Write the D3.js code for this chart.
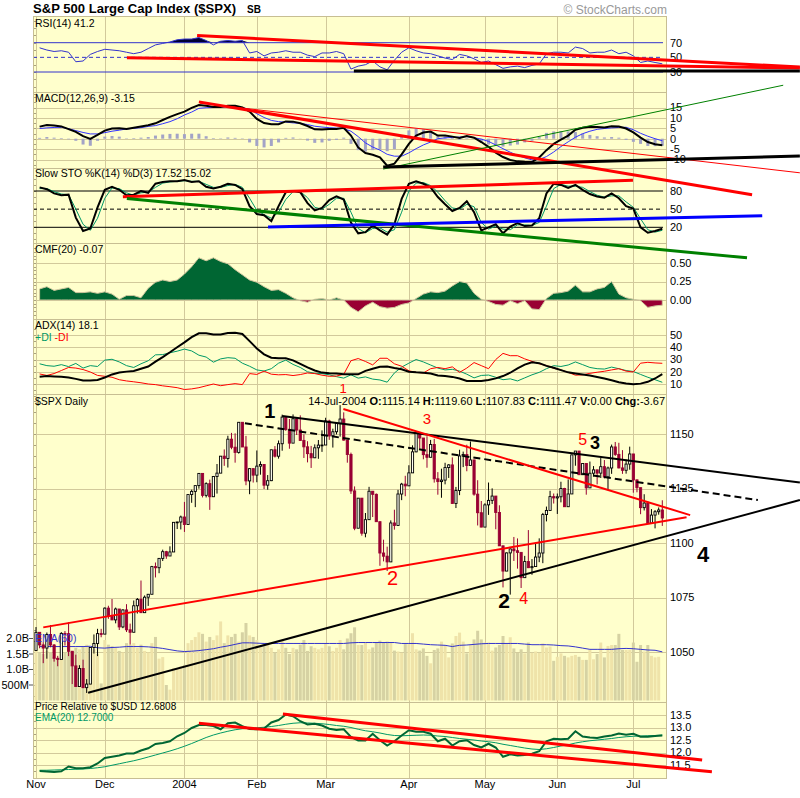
<!DOCTYPE html>
<html><head><meta charset="utf-8">
<script src="https://cdn.jsdelivr.net/npm/d3@7"></script>
<style>body{margin:0;background:#fff}svg{display:block}text{font-family:"Liberation Sans",Arial,sans-serif}</style>
</head><body><svg id="c" width="800" height="798"></svg>
<script>
// ---------- DATA ----------
const monthIdx=[0,19,41,61,80,103,124,144,165];
const monthLbl=["Nov","Dec","2004","Feb","Mar","Apr","May","Jun","Jul"];
const opens=[1050.71,1059.02,1053.25,1051.81,1058.05,1053.21,1047.11,1046.57,1058.53,1058.41,
1050.35,1043.63,1034.15,1042.44,1033.65,1035.28,1052.08,1053.89,1058.45,1058.20,
1070.12,1066.62,1064.73,1069.72,1061.50,1069.30,1060.18,1059.05,1071.21,1074.14,
1068.04,1075.13,1076.48,1089.18,1088.66,1092.94,1096.02,1094.04,1095.89,1109.48,
1109.64,1111.92,1108.48,1122.22,1123.67,1126.33,1131.92,1121.86,1127.23,1121.22,
1130.52,1132.05,1139.83,1138.77,1147.62,1143.94,1141.55,1155.37,1144.05,1128.48,
1134.11,1131.13,1135.26,1136.03,1126.52,1128.59,1142.76,1139.81,1145.54,1157.76,
1152.11,1145.81,1156.99,1151.82,1147.06,1144.11,1140.99,1139.09,1143.67,1144.91,
1144.94,1155.97,1149.10,1151.03,1154.87,1156.86,1147.20,1140.58,1123.89,1106.78,
1120.57,1104.49,1110.70,1123.75,1122.32,1109.78,1095.40,1093.95,1091.33,1109.19,
1108.06,1122.47,1127.00,1126.21,1132.17,1141.81,1150.57,1148.16,1140.53,1139.32,
1145.20,1129.44,1128.17,1128.84,1134.61,1135.82,1118.15,1124.09,1139.93,1140.60,
1135.53,1138.11,1122.41,1113.89,1107.30,1117.49,1119.55,1121.53,1113.99,1098.70,
1087.12,1095.45,1097.28,1096.44,1095.70,1084.10,1091.49,1088.68,1089.19,1093.56,
1095.41,1113.05,1114.94,1121.28,1120.68,1121.20,1124.99,1116.64,1122.50,1140.42,
1142.18,1131.33,1136.47,1125.29,1132.01,1133.56,1132.05,1135.02,1130.30,1134.41,
1144.06,1140.65,1134.43,1133.35,1136.20,1140.84,1128.94,1125.38,1116.21,1118.33,
1109.11,1112.81,1114.35,1115.14];
const highs=[1061.44,1059.02,1054.54,1058.94,1062.39,1053.65,1048.23,1059.10,1059.62,1063.65,
1050.35,1048.77,1043.95,1046.48,1037.57,1052.08,1058.05,1060.63,1060.63,1070.47,
1071.22,1074.30,1070.37,1069.72,1069.59,1071.94,1063.02,1073.63,1074.76,1082.79,
1075.94,1076.54,1089.50,1091.06,1092.94,1096.95,1096.40,1098.47,1109.48,1109.75,
1112.56,1118.85,1122.22,1124.46,1126.33,1131.92,1131.92,1127.85,1129.07,1130.75,
1136.23,1139.83,1142.93,1149.21,1150.51,1150.31,1155.38,1155.37,1149.14,1134.39,
1134.17,1142.45,1137.44,1136.03,1131.17,1142.79,1144.46,1147.02,1158.89,1157.76,
1156.88,1158.98,1157.40,1158.57,1149.81,1146.69,1144.54,1145.24,1147.23,1151.68,
1157.45,1156.54,1152.44,1154.97,1163.23,1159.94,1147.32,1141.45,1125.96,1120.63,
1120.57,1113.76,1125.76,1123.75,1122.72,1109.78,1101.52,1098.32,1110.38,1115.27,
1124.37,1127.60,1130.83,1135.67,1144.81,1150.57,1150.57,1148.16,1148.97,1147.29,
1147.78,1132.52,1134.08,1136.80,1136.18,1139.26,1125.72,1142.77,1141.92,1145.08,
1146.56,1138.11,1128.80,1119.26,1118.22,1127.74,1125.07,1121.53,1117.30,1098.70,
1095.69,1097.55,1102.77,1102.10,1095.70,1094.10,1105.93,1092.62,1099.64,1102.14,
1113.80,1116.71,1123.95,1122.70,1122.70,1128.10,1125.31,1129.17,1140.54,1142.18,
1142.18,1136.47,1136.47,1137.36,1135.28,1133.56,1138.96,1138.05,1135.05,1145.15,
1146.34,1145.97,1142.60,1138.26,1144.20,1140.84,1129.15,1125.38,1122.37,1119.12,
1115.57,1115.11,1116.30,1119.60];
const lows=[1050.71,1051.70,1044.88,1046.93,1052.17,1045.58,1043.46,1046.57,1052.96,1048.11,
1035.28,1034.00,1034.15,1033.42,1031.20,1035.28,1049.31,1048.11,1056.77,1058.20,
1065.22,1064.63,1063.15,1060.09,1060.93,1059.16,1053.41,1059.05,1067.64,1068.00,
1068.00,1071.14,1076.48,1084.19,1086.14,1091.73,1092.73,1094.04,1095.89,1106.41,
1106.21,1105.08,1108.48,1118.44,1116.45,1124.91,1120.90,1120.90,1115.19,1121.22,
1122.66,1132.05,1135.40,1134.62,1143.01,1136.85,1141.00,1144.05,1126.50,1122.38,
1127.73,1127.87,1131.33,1124.74,1124.44,1128.39,1139.21,1138.70,1142.33,1151.44,
1143.24,1145.81,1149.54,1146.85,1139.00,1136.98,1134.43,1138.96,1138.62,1141.80,
1144.94,1147.31,1143.78,1149.81,1148.77,1146.97,1136.84,1122.53,1105.87,1106.78,
1103.36,1102.61,1110.70,1111.91,1109.69,1089.54,1091.57,1087.16,1091.33,1106.13,
1108.06,1119.66,1121.46,1126.20,1132.17,1141.64,1143.30,1138.41,1134.52,1139.32,
1127.70,1122.15,1120.75,1126.90,1129.84,1118.09,1116.03,1121.95,1134.81,1132.91,
1135.53,1121.70,1108.04,1107.23,1107.30,1112.89,1117.90,1106.30,1098.63,1079.63,
1087.12,1076.32,1091.76,1088.24,1079.36,1084.10,1088.49,1085.43,1089.19,1091.20,
1090.74,1109.91,1114.86,1118.10,1113.32,1118.64,1116.57,1116.64,1122.50,1135.45,
1131.17,1131.33,1122.16,1125.29,1130.55,1126.89,1129.83,1129.64,1124.37,1131.73,
1139.94,1134.24,1131.72,1131.81,1133.62,1123.06,1123.26,1113.21,1114.92,1108.72,
1109.11,1106.71,1112.99,1107.83];
const closes=[1059.02,1053.25,1051.81,1058.05,1053.21,1047.11,1046.57,1058.53,1058.41,1050.35,
1043.63,1034.15,1042.44,1033.65,1035.28,1052.08,1053.89,1058.45,1058.20,1070.12,
1066.62,1064.73,1069.72,1061.50,1069.30,1060.18,1059.05,1071.21,1074.14,1068.04,
1075.13,1076.48,1089.18,1088.66,1092.94,1096.02,1094.04,1095.89,1109.48,1109.64,
1111.92,1108.48,1122.22,1123.67,1126.33,1131.92,1121.86,1127.23,1121.22,1130.52,
1132.05,1139.83,1138.77,1147.62,1143.94,1141.55,1155.37,1144.05,1128.48,1134.11,
1131.13,1135.26,1136.03,1126.52,1128.59,1142.76,1139.81,1145.54,1157.76,1152.11,
1145.81,1156.99,1151.82,1147.06,1144.11,1140.99,1139.09,1143.67,1144.91,1144.94,
1155.97,1149.10,1151.03,1154.87,1156.86,1147.20,1140.58,1123.89,1106.78,1120.57,
1104.49,1110.70,1123.75,1122.32,1109.78,1095.40,1093.95,1091.33,1109.19,1108.06,
1122.47,1127.00,1126.21,1132.17,1141.81,1150.57,1148.16,1140.53,1139.32,1145.20,
1129.44,1128.17,1128.84,1134.61,1135.82,1118.15,1124.09,1139.93,1140.60,1135.53,
1138.11,1122.41,1113.89,1107.30,1117.49,1119.55,1121.53,1113.99,1098.70,1087.12,
1095.45,1097.28,1096.44,1095.70,1084.10,1091.49,1088.68,1089.19,1093.56,1095.41,
1113.05,1114.94,1121.28,1120.68,1121.20,1124.99,1116.64,1122.50,1140.42,1142.18,
1131.33,1136.47,1125.29,1132.01,1133.56,1132.05,1135.02,1130.30,1134.41,1144.06,
1140.65,1134.43,1133.35,1136.20,1140.84,1128.94,1125.38,1116.21,1118.33,1109.11,
1112.81,1114.35,1115.14,1111.47];
// volume in billions of shares
const volumes=[1.65,1.55,1.50,1.60,1.55,1.40,1.35,1.50,1.55,1.60,1.55,1.70,1.65,1.75,1.80,1.50,1.65,1.50,0.55,
1.95,1.80,1.75,1.70,1.60,1.55,1.85,1.80,1.85,1.70,1.80,1.60,1.55,1.85,2.05,1.35,1.40,0.50,0.35,1.05,1.05,1.10,
1.15,1.85,1.95,2.05,2.20,2.15,1.90,2.05,1.95,2.10,2.55,1.85,2.10,2.05,2.15,1.90,2.20,2.50,2.10,2.05,
1.95,1.75,1.85,1.80,1.70,1.55,1.65,1.95,1.70,1.50,1.70,1.65,1.80,1.95,1.60,1.75,1.70,1.65,1.70,
1.85,1.75,1.60,1.70,1.95,1.65,
2.00,2.17,2.36,1.79,1.79,1.87,1.65,1.71,1.87,1.93,1.87,1.90,1.87,1.61,1.58,1.54,1.82,1.82,2.17,1.65,
1.61,1.68,1.44,1.20,1.63,1.68,1.90,1.79,1.39,1.84,2.08,2.19,1.90,1.52,1.79,1.97,2.25,1.97,1.87,1.87,
1.61,1.71,1.79,2.08,1.82,2.04,1.68,1.54,1.65,1.52,1.87,1.54,1.58,1.54,1.84,1.71,1.74,1.28,1.41,1.52,
1.44,1.39,1.44,1.47,1.41,1.31,1.31,1.63,1.33,1.50,1.87,1.39,1.76,1.79,1.79,2.15,1.63,1.63,1.63,1.87,
1.25,1.79,1.58,1.79,1.44,1.39,1.41];
// indicator series, one value every second trading day (day 1,3,5,...,173)
const volEma=[1.74,1.74,1.74,1.74,1.74,1.74,1.74,1.75,1.70,1.69,1.71,1.72,1.74,1.74,1.74,1.73,1.71,1.68,1.64,1.60,
1.58,1.59,1.61,1.64,1.67,1.72,1.76,1.81,1.86,1.86,1.85,1.84,1.84,1.84,1.84,1.84,1.84,1.84,1.84,1.84,
1.84,1.84,1.84,1.86,1.87,1.87,1.87,1.87,1.87,1.87,1.84,1.84,1.84,1.82,1.80,1.79,1.78,1.74,1.78,1.79,
1.81,1.83,1.84,1.84,1.84,1.84,1.84,1.82,1.80,1.80,1.80,1.79,1.77,1.76,1.73,1.69,1.65,1.65,1.65,1.65,
1.67,1.68,1.67,1.65,1.63,1.62,1.57];
const rsi=[63,60,58,59,57,44,45,54,58,61,60,59,57,55,57,62,67,69,71,74,
75,75,77,73,67,72,73,72,73,56,58,52,56,57,59,57,57,53,51,56,
56,58,55,34,38,40,45,37,33,46,57,63,59,56,55,52,49,47,54,52,
48,43,45,40,35,37,38,36,39,41,55,57,57,56,64,62,56,57,57,60,
55,57,52,43,45,43,41.2];
const macd=[5.8,6.6,6.3,5.9,4.6,3.3,1.2,-0.1,1.8,3.9,4.9,5.0,4.7,5.3,5.9,6.5,7.4,9.0,10.5,11.8,
13.0,14.8,16.2,15.8,15.2,15.2,15.9,15.8,15.0,13.0,9.5,7.5,6.9,7.0,8.3,8.2,7.4,6.1,4.5,4.4,
4.7,4.7,5.2,1.5,-4.2,-6.9,-7.7,-9.0,-13.0,-12.0,-7.5,-2.5,1.5,3.0,3.4,1.5,1.5,1.0,0.4,1.3,
0.5,-1.6,-3.9,-6.7,-8.8,-10.2,-10.9,-11.1,-11.2,-9.0,-5.5,-2.5,-0.5,1.5,4.3,5.3,5.7,5.6,5.4,6.0,
5.9,4.9,3.0,0.5,-1.6,-2.7,-3.15];
const macdSignal=[4.9,5.2,5.4,5.5,4.8,3.9,3.0,2.3,2.3,2.9,3.6,4.1,4.7,5.0,5.3,5.9,6.3,7.2,8.2,9.6,
11.4,12.8,14.6,14.9,15.0,15.2,15.3,15.5,14.9,14.2,12.0,10.2,8.8,8.2,8.0,7.6,7.4,6.8,6.0,5.6,
5.3,5.1,4.8,3.6,1.0,-2.0,-4.0,-5.5,-7.5,-8.4,-8.4,-6.8,-4.8,-3.0,-1.6,0.0,0.4,0.6,0.8,1.0,
0.5,-0.2,-1.3,-3.0,-4.8,-6.5,-8.0,-9.2,-10.2,-10.0,-8.6,-6.4,-3.8,-1.5,0.7,2.4,3.6,4.5,4.9,5.2,
5.4,5.5,4.3,2.6,1.2,0.0,-1.0];
const macdHist=[0.4,0.8,0.5,0.3,-0.3,-1.0,-2.8,-3.4,-1.0,1.0,1.3,1.0,0.2,0.3,0.5,0.8,1.5,2.0,2.3,2.4,
2.2,2.4,2.4,1.2,0.3,0.2,0.6,0.4,0.2,-1.8,-3.5,-4.2,-3.5,-1.8,0.4,0.6,0.1,-0.9,-2.0,-1.8,
-1.0,-0.6,0.5,-2.5,-5.5,-6.2,-5.5,-5.2,-6.0,-5.0,1.0,4.0,5.0,4.5,3.8,1.8,1.2,0.5,-0.5,0.3,
0.0,-1.5,-2.8,-3.5,-3.8,-3.3,-2.8,-1.8,-1.0,1.0,2.8,3.5,3.7,3.5,3.2,2.5,1.8,1.2,0.6,0.8,
0.5,-0.6,-1.5,-2.5,-3.5,-3.6,-3.4];
const stoK=[86,83,76,73,74,36,14,18,53,82,87,82,73,74,80,77,92,95,96,96,
98,95,96,87,84,87,92,90,83,55,42,40,30,55,78,80,78,60,48,52,
65,71,66,28,10,12,23,15,8,25,67,92,96,92,86,70,58,47,52,63,
45,15,20,25,10,21,27,22,23,35,76,92,90,85,90,82,75,71,69,76,
68,55,51,20,11,14,17.52];
const stoD=[84,84,79,75,74,50,25,15,35,68,85,84,77,73,77,78,86,93,95,96,
97,96,96,91,86,86,89,91,86,68,48,41,35,45,66,79,79,69,53,50,
58,68,68,45,18,11,18,19,12,16,45,80,93,94,89,78,64,52,50,58,
54,28,17,22,17,16,24,24,23,28,55,84,91,88,88,86,79,73,70,72,
72,62,53,34,16,12,15.02];
const cmf=[0.15,0.18,0.13,0.15,0.17,0.10,0.10,0.11,0.09,0.11,0.08,0.01,0.06,0.06,0.03,0.16,0.24,0.27,0.25,0.27,
0.35,0.45,0.57,0.53,0.57,0.52,0.49,0.41,0.34,0.27,0.24,0.18,0.13,0.14,0.09,0.03,-0.01,-0.03,0.01,0.02,
0.0,0.03,0.0,-0.10,-0.16,-0.08,-0.03,-0.09,-0.11,-0.10,-0.06,-0.04,0.02,0.08,0.11,0.10,0.12,0.19,0.25,0.23,
0.09,0.01,-0.02,-0.06,-0.07,-0.01,-0.05,-0.01,-0.12,-0.13,0.02,0.09,0.10,0.12,0.20,0.11,0.11,0.15,0.17,0.25,
0.08,0.03,0.01,-0.01,-0.10,-0.08,-0.07];
const adx=[16.0,16.5,16.2,15.9,15.3,14.2,12.8,12.9,13.3,15.3,17.8,19.3,20.1,20.6,22.5,24.3,28.3,32.0,35.9,40.0,
44.0,48.3,51.4,51.4,50.5,50.4,51.6,51.9,50.8,45.0,39.0,34.2,31.5,31.0,31.0,29.3,26.5,23.5,21.0,19.3,
18.7,18.5,17.9,17.9,17.9,20.7,22.5,24.0,24.2,23.0,22.0,20.0,19.5,19.2,18.5,17.0,16.5,15.8,14.5,12.5,
12.4,12.4,13.3,14.6,16.5,19.2,22.8,25.8,27.8,27.0,24.8,23.2,21.3,19.5,18.6,17.7,16.9,15.7,14.5,13.0,
11.5,10.4,9.7,10.3,11.8,14.5,18.1];
const plusDI=[26.5,25.0,24.5,25.8,24.2,26.8,23.0,25.0,24.3,29.5,30.2,28.0,25.0,23.5,26.5,29.0,33.8,34.0,35.5,36.8,
38.5,37.0,33.5,32.0,27.8,30.5,31.5,31.0,27.0,24.5,21.5,20.6,22.5,27.0,29.5,26.0,23.5,20.0,18.7,18.5,
17.5,16.0,14.8,17.5,14.8,15.8,14.0,13.3,11.5,19.0,23.8,27.0,30.0,28.0,25.5,23.0,21.5,22.0,20.5,18.0,
15.0,17.0,17.3,15.5,13.5,14.2,12.5,15.0,17.5,19.5,22.5,25.0,24.3,25.5,28.0,25.8,23.5,22.5,22.2,23.8,
22.5,21.0,20.2,17.8,15.5,13.5,11.4];
const minusDI=[18.2,17.0,18.5,21.0,23.5,23.0,21.8,19.8,17.0,16.3,15.5,13.5,12.5,11.8,11.0,10.0,9.5,8.5,7.8,7.0,
5.5,6.0,7.0,8.5,10.0,8.6,9.5,10.3,9.5,18.5,17.8,20.5,18.0,17.5,17.7,16.9,17.7,19.0,18.5,17.2,
16.3,16.5,17.9,29.0,30.8,28.4,25.6,31.0,31.0,26.5,24.5,20.8,19.5,19.0,22.5,23.5,22.5,24.0,19.5,23.0,
27.5,25.0,22.5,30.0,35.0,33.1,33.1,30.5,28.5,26.5,25.0,22.8,21.5,19.5,17.2,17.5,18.7,19.6,20.4,21.5,
22.5,20.5,19.8,27.0,27.7,27.2,26.9];
const priceRel=[11.26,11.24,11.22,11.25,11.44,11.37,11.37,11.41,11.56,11.78,11.83,11.88,11.96,11.96,12.08,12.17,12.34,12.38,12.45,12.65,
12.78,12.98,13.10,13.10,13.06,12.93,13.17,13.20,13.05,12.94,12.93,12.96,13.20,13.30,13.52,13.45,13.25,13.12,13.15,13.08,
12.95,12.90,12.93,12.62,12.48,12.48,12.75,12.49,12.28,12.45,12.68,12.89,12.83,12.83,12.75,12.45,12.55,12.28,12.45,12.49,
12.30,12.20,12.35,12.20,11.83,11.93,11.88,11.90,11.95,12.05,12.45,12.55,12.53,12.55,12.85,12.64,12.60,12.58,12.64,12.68,
12.76,12.71,12.75,12.63,12.63,12.66,12.68];
const priceRelEma=[11.29,11.29,11.30,11.31,11.32,11.33,11.34,11.36,11.39,11.43,11.49,11.55,11.61,11.67,11.74,11.82,11.90,11.98,12.06,12.15,
12.25,12.36,12.48,12.60,12.70,12.78,12.85,12.91,12.95,12.97,12.99,13.01,13.04,13.08,13.13,13.17,13.19,13.18,13.17,13.15,
13.12,13.08,13.05,13.00,12.93,12.87,12.83,12.78,12.72,12.68,12.67,12.68,12.69,12.70,12.69,12.66,12.64,12.60,12.56,12.53,
12.50,12.46,12.43,12.39,12.33,12.28,12.23,12.18,12.14,12.12,12.15,12.20,12.26,12.31,12.38,12.43,12.47,12.50,12.53,12.56,
12.60,12.63,12.65,12.66,12.67,12.68,12.70];
// hand-drawn trendlines: [dayIndex1, value1, dayIndex2, value2]
const rsiTrend=[[44.5,79.8,211,36.8],[25.1,49.5,211,35.5],[87.8,31.4,211,31.4]];
const macdTrend=[[45,17.7,197.8,-26.9],[45.3,17.1,211,-16.4],[95.9,-14.6,206.4,25.7],[95.9,-13.6,211,-8.3]];
const stoTrend=[[24,70.3,164.9,97.9],[25.1,67.7,196.4,-30.5],[64.1,20.7,200.6,38.9]];
const priceTrend=[[68,1158.3,211,1127.7],[57.7,1154.9,199.4,1119.7],[14.4,1031.3,211,1119.7],[84.9,1161.5,180.7,1112.8],[2.0,1061.3,179.7,1111.8]];
const prTrend=[[68.2,13.54,184,11.7],[45,13.17,186.7,11.23]];
// wave labels: [dayIndex, price, text]
const waveLabels=[[64.6,1157.3,"1"],[84.8,1168.6,"1"],[108,1154.8,"3"],[151,1145,"5"],[154.4,1142.9,"3"],[98.5,1080.7,"2"],[129.3,1070,"2"],[134.7,1072,"4"],[184.3,1091.4,"4"]];
const rsiTicks=[70,50,30], macdTicks=[15,10,5,0,-5,-10], stoTicks=[80,50,20], cmfTicks=[0.5,0.25,0], adxTicks=[50,40,30,20,10],
      priceTicks=[1150,1125,1100,1075,1050], volTicks=[2,1.5,1,0.5], volTickLbl=["2.0B","1.5B","1.0B","500M"], prTicks=[13.5,13,12.5,12,11.5];

// ---------- STYLE / LAYOUT ----------
const BG="#ffffcc", GRID="#d2c99b", FRAME="#c7be93";
const L=33,R=667;
const P={rsi:[16,92],macd:[92,168],sto:[168,243],cmf:[243,319],adx:[319,394],price:[394,702],pr:[702,778]};
const svg=d3.select("#c");
const defs=svg.append("defs");
const x=d3.scaleLinear().domain([0,173]).range([36,662.3]);
const sx=(d,k)=>x(2*k+1);
const rsiY=d3.scaleLinear().domain([30,70]).range([72,42.7]);
const macdY=d3.scaleLinear().domain([-10,15]).range([159.5,107.5]);
const stoY=d3.scaleLinear().domain([20,80]).range([227.3,191]);
const cmfY=d3.scaleLinear().domain([0,0.5]).range([300,263]);
const adxY=d3.scaleLinear().domain([10,50]).range([384,335]);
const pY=d3.scaleLinear().domain([1050,1150]).range([652,434]);
const vY=d3.scaleLinear().domain([0,2]).range([700.5,638.5]);
const prY=d3.scaleLinear().domain([11.5,13.5]).range([765,715]);

// panels
Object.entries(P).forEach(([k,[t,b]])=>{
  svg.append("rect").attr("x",L).attr("y",t).attr("width",R-L).attr("height",b-t).attr("fill",BG);
  defs.append("clipPath").attr("id","cl-"+k).append("rect").attr("x",L).attr("y",t).attr("width",R-L).attr("height",b-t);
  monthIdx.forEach(i=>svg.append("line").attr("x1",Math.round(x(i))+0.5).attr("x2",Math.round(x(i))+0.5).attr("y1",t).attr("y2",b).attr("stroke",GRID));
});
function hgrid(scale,ticks){
  ticks.forEach(v=>svg.append("line").attr("x1",L).attr("x2",R).attr("y1",Math.round(scale(v))+0.5).attr("y2",Math.round(scale(v))+0.5).attr("stroke",GRID));
}
hgrid(macdY,macdTicks); hgrid(cmfY,cmfTicks); hgrid(adxY,adxTicks); hgrid(pY,priceTicks); hgrid(prY,prTicks);
function lticks(scale,lo,hi,step){
  for(let v=lo;v<=hi+1e-9;v+=step){const y=Math.round(scale(v))+0.5;svg.append("line").attr("x1",L).attr("x2",L+3).attr("y1",y).attr("y2",y).attr("stroke","#a9a280");}
}
lticks(rsiY,0,100,10); lticks(macdY,-12.5,20,2.5); lticks(stoY,0,100,10); lticks(cmfY,-0.2,0.7,0.05); lticks(adxY,0,55,5); lticks(pY,1030,1165,5); lticks(prY,11.25,13.75,0.25);

function rlabels(scale,ticks,fmt){
  ticks.forEach(v=>svg.append("text").attr("x",670).attr("y",scale(v)).attr("dy","0.35em").attr("font-size",11).attr("fill","#000").text(fmt?fmt(v):v));
}
rlabels(rsiY,rsiTicks); rlabels(macdY,macdTicks); rlabels(stoY,stoTicks); rlabels(cmfY,cmfTicks,v=>v.toFixed(2)); rlabels(adxY,adxTicks); rlabels(pY,priceTicks); rlabels(prY,prTicks,v=>v.toFixed(1));

const line=(sc)=>d3.line().x(sx).y(d=>sc(d));

// RSI
const gR=svg.append("g").attr("clip-path","url(#cl-rsi)");
gR.append("path").datum(rsi).attr("d",d3.area().x(sx).y0(rsiY(70)).y1(d=>rsiY(Math.max(d,70)))).attr("fill","#000033");
[70,30].forEach(v=>gR.append("line").attr("x1",L).attr("x2",R-4).attr("y1",rsiY(v)).attr("y2",rsiY(v)).attr("stroke","#3333cc"));
gR.append("line").attr("x1",L).attr("x2",R-4).attr("y1",rsiY(50)).attr("y2",rsiY(50)).attr("stroke","#3333cc").attr("stroke-dasharray","4,3");
gR.append("path").datum(rsi).attr("d",line(rsiY)).attr("fill","none").attr("stroke","#3333cc").attr("stroke-width",1);

// MACD
const gM=svg.append("g").attr("clip-path","url(#cl-macd)");
gM.selectAll("rect").data(macdHist).join("rect").attr("x",(d,k)=>sx(d,k)-1.5).attr("width",3)
  .attr("y",d=>Math.min(macdY(0),macdY(d))).attr("height",d=>Math.abs(macdY(d)-macdY(0))).attr("fill","#a3a3c6");
gM.append("path").datum(macdSignal).attr("d",line(macdY)).attr("fill","none").attr("stroke","#3333ff").attr("stroke-width",1);
gM.append("path").datum(macd).attr("d",line(macdY)).attr("fill","none").attr("stroke","#000").attr("stroke-width",2);

// STO
const gS=svg.append("g").attr("clip-path","url(#cl-sto)");
[80,20].forEach(v=>gS.append("line").attr("x1",L).attr("x2",R-4).attr("y1",stoY(v)).attr("y2",stoY(v)).attr("stroke","#000"));
gS.append("line").attr("x1",L).attr("x2",R-4).attr("y1",stoY(50)).attr("y2",stoY(50)).attr("stroke","#000").attr("stroke-dasharray","4,3");
gS.append("path").datum(stoD).attr("d",line(stoY)).attr("fill","none").attr("stroke","#009966").attr("stroke-width",1);
gS.append("path").datum(stoK).attr("d",line(stoY)).attr("fill","none").attr("stroke","#000").attr("stroke-width",2);

// CMF
const cmfArea=d3.area().x(sx).y0(cmfY(0)).y1(d=>cmfY(d));
defs.append("clipPath").attr("id","cmfPos").append("rect").attr("x",L).attr("y",243).attr("width",R-L).attr("height",cmfY(0)-243);
defs.append("clipPath").attr("id","cmfNeg").append("rect").attr("x",L).attr("y",cmfY(0)).attr("width",R-L).attr("height",319-cmfY(0));
svg.append("path").datum(cmf).attr("d",cmfArea).attr("fill","#006633").attr("stroke","#cfc69e").attr("stroke-width",1).attr("clip-path","url(#cmfPos)");
svg.append("path").datum(cmf).attr("d",cmfArea).attr("fill","#990033").attr("stroke","#cfc69e").attr("stroke-width",1).attr("clip-path","url(#cmfNeg)");

// ADX
const gA=svg.append("g").attr("clip-path","url(#cl-adx)");
gA.append("path").datum(plusDI).attr("d",line(adxY)).attr("fill","none").attr("stroke","#009966").attr("stroke-width",1);
gA.append("path").datum(minusDI).attr("d",line(adxY)).attr("fill","none").attr("stroke","#ff0000").attr("stroke-width",1);
gA.append("path").datum(adx).attr("d",line(adxY)).attr("fill","none").attr("stroke","#000").attr("stroke-width",2);

// Price panel: volume
const gP=svg.append("g").attr("clip-path","url(#cl-price)");
gP.selectAll("rect.v").data(volumes).join("rect").attr("class","v").attr("x",(d,i)=>x(i)-1.5).attr("width",3)
  .attr("y",d=>vY(d)).attr("height",d=>vY(0)-vY(d)).attr("fill",(d,i)=>closes[i]>=opens[i]?"#efe3a9":"#d6d2a3");
gP.append("path").datum(volEma).attr("d",line(vY)).attr("fill","none").attr("stroke","#3333cc").attr("stroke-width",1);
// candles
closes.forEach((c,i)=>{
  const o=opens[i],up=c>=o,col=up?"#000":"#990033";
  gP.append("line").attr("x1",x(i)).attr("x2",x(i)).attr("y1",pY(highs[i])).attr("y2",pY(lows[i])).attr("stroke",col).attr("stroke-width",1);
  gP.append("rect").attr("x",x(i)-1.1).attr("width",2.2).attr("y",pY(Math.max(o,c))).attr("height",Math.max(0.8,Math.abs(pY(o)-pY(c))))
    .attr("fill",up?"#fffff2":"#990033").attr("stroke",col).attr("stroke-width",0.9);
});
// volume labels
volTicks.forEach((v,j)=>{
  svg.append("line").attr("x1",29).attr("x2",L).attr("y1",vY(v)).attr("y2",vY(v)).attr("stroke","#555");
  svg.append("text").attr("x",29).attr("y",vY(v)).attr("dy","0.35em").attr("text-anchor","end").attr("font-size",11).text(volTickLbl[j]);
});
svg.append("text").attr("x",35).attr("y",vY(2)).attr("dy","0.35em").attr("font-size",10.5).attr("fill","#3333cc").text("EMA(60)");

// Price relative
const gQ=svg.append("g").attr("clip-path","url(#cl-pr)");
gQ.append("path").datum(priceRelEma).attr("d",line(prY)).attr("fill","none").attr("stroke","#009966").attr("stroke-width",1);
gQ.append("path").datum(priceRel).attr("d",line(prY)).attr("fill","none").attr("stroke","#006633").attr("stroke-width",2);

// frame lines
Object.values(P).forEach(([t,b])=>{
  svg.append("rect").attr("x",L+0.5).attr("y",t+0.5).attr("width",R-L-1).attr("height",b-t).attr("fill","none").attr("stroke",FRAME);
});

// panel captions
const cap=(y,parts,fs)=>{const t=svg.append("text").attr("x",35).attr("y",y).attr("font-size",fs||10.5);parts.forEach(p=>t.append("tspan").attr("fill",p[1]||"#000").text(p[0]));};
cap(27,[["RSI(14)  41.2"]]);
cap(102,[["MACD(12,26,9)  -3.15"]]);
cap(177,[["Slow STO %K(14) %D(3)  17.52   15.02"]]);
cap(252.5,[["CMF(20)  -0.07"]]);
cap(329,[["ADX(14)  18.1"]]);
cap(341,[["+DI ","#009966"],["-DI","#ff0000"]]);
cap(405,[["$SPX Daily"]]);
cap(710,[["Price Relative to $USD  12.6808"]],10);
cap(721,[["EMA(20) 12.7000","#009966"]],10);
const hdr=svg.append("text").attr("x",665).attr("y",405).attr("text-anchor","end").attr("font-size",11);
[["14-Jul-2004 ",""],["O:","b"],["1115.14 ",""],["H:","b"],["1119.60 ",""],["L:","b"],["1107.83 ",""],["C:","b"],["1111.47 ",""],["V:","b"],["0.00 ",""],["Chg:","b"],["-3.67",""]]
  .forEach(p=>hdr.append("tspan").attr("font-weight",p[1]?"bold":"normal").text(p[0]));

// title
svg.append("text").attr("x",33).attr("y",13).attr("font-size",13.5).attr("font-weight","bold").attr("textLength",203).attr("lengthAdjust","spacingAndGlyphs").text("S&P 500 Large Cap Index ($SPX)");
svg.append("text").attr("x",247).attr("y",13).attr("font-size",10).attr("font-weight","bold").text("SB");
svg.append("text").attr("x",667).attr("y",14).attr("text-anchor","end").attr("font-size",12).attr("fill","#999").text("\u00a9 StockCharts.com");

// month labels
monthIdx.forEach((i,j)=>svg.append("text").attr("x",x(i)).attr("y",788).attr("text-anchor","middle").attr("font-size",11).text(monthLbl[j]));

// trendlines
function trend(arr,sc,styles){
  arr.forEach((t,j)=>{const s=styles[j];
    svg.append("line").attr("x1",x(t[0])).attr("y1",sc(t[1])).attr("x2",x(t[2])).attr("y2",sc(t[3]))
      .attr("stroke",s[0]).attr("stroke-width",s[1]).attr("stroke-dasharray",s[2]||null);});
}
trend(rsiTrend,rsiY,[["#ff0000",3],["#ff0000",3],["#000",3]]);
trend(macdTrend,macdY,[["#ff0000",3],["#ff0000",1],["#008000",1],["#000",3]]);
trend(stoTrend,stoY,[["#ff0000",3],["#008000",3],["#0000ff",3]]);
trend(priceTrend,pY,[["#000",2],["#000",2,"7,4"],["#000",2],["#ff0000",2],["#ff0000",2]]);
trend(prTrend,prY,[["#ff0000",3],["#ff0000",3]]);

// wave labels
const waveStyle=[["#000",20,"bold"],["#ff0000",13,"normal"],["#ff0000",15,"normal"],["#ff0000",16,"normal"],["#000",18,"bold"],["#ff0000",20,"normal"],["#000",21,"bold"],["#ff0000",16,"normal"],["#000",22,"bold"]];
waveLabels.forEach((w,j)=>{const s=waveStyle[j];
  svg.append("text").attr("x",x(w[0])).attr("y",pY(w[1])).attr("text-anchor","middle").attr("fill",s[0]).attr("font-size",s[1]).attr("font-weight",s[2]).text(w[2]);});
</script></body></html>
